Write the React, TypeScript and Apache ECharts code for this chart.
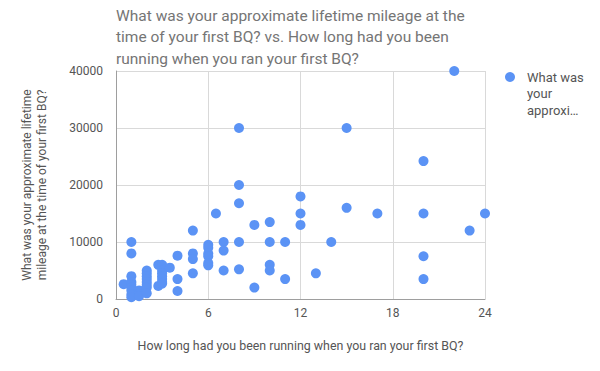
import React, { useEffect, useRef } from "react";
import * as echarts from "echarts";

const titleLines = [
  "What was your approximate lifetime mileage at the",
  "time of your first BQ? vs. How long had you been",
  "running when you ran your first BQ?",
];
const seriesName = "What was your approximate lifetime mileage at the time of your first BQ?";
const legendLines = ["What was", "your", "approxi…"];
const xAxisTitle = "How long had you been running when you ran your first BQ?";
const yAxisTitle = "What was your approximate lifetime\nmileage at the time of your first BQ?";

// years running (x) and lifetime mileage (y)
const yearsRunning = [
  0.5, 1, 1, 1, 1, 1, 1, 1, 1, 1,
  1.5, 1.5, 1.5,
  2, 2, 2, 2, 2, 2, 2, 2,
  2.75, 2.75,
  3, 3, 3, 3, 3, 3, 3,
  3.5,
  4, 4, 4,
  5, 5, 5, 5,
  6, 6, 6, 6, 6, 6,
  6.5,
  7, 7, 7,
  8, 8, 8, 8, 8,
  9, 9,
  10, 10, 10, 10,
  11, 11,
  12, 12, 12,
  13, 14,
  15, 15, 17,
  20, 20, 20, 20,
  22, 23, 24,
];
const lifetimeMileage = [
  2600, 10000, 8000, 4000, 3000, 2500, 2000, 1500, 800, 300,
  1500, 800, 500,
  5000, 4500, 4000, 3500, 3000, 2500, 2000, 1000,
  6000, 2300,
  6000, 5000, 4500, 4000, 3500, 3000, 2700,
  5500,
  7600, 3500, 1400,
  12000, 8000, 7000, 4500,
  9500, 9000, 8000, 7500, 6300, 5900,
  15000,
  10000, 8500, 5000,
  30000, 20000, 16800, 10000, 5200,
  13000, 2000,
  13500, 10000, 6000, 5000,
  10000, 3500,
  18000, 15000, 13000,
  4500, 10000,
  30000, 16000, 15000,
  24200, 15000, 7500, 3500,
  40000, 12000, 15000,
];

const xTicks = { min: 0, max: 24, interval: 6 };
const yTicks = { min: 0, max: 40000, interval: 10000 };

const FONT = "Roboto, Arial, sans-serif";
const DOT = "#5b93f5";

export default function App() {
  const ref = useRef<HTMLDivElement>(null);
  useEffect(() => {
    if (!ref.current) return;
    const chart = echarts.init(ref.current, undefined, { renderer: "svg" });
    const points = yearsRunning.map((x, i) => [x, lifetimeMileage[i]]);
    chart.setOption({
      animation: false,
      backgroundColor: "#ffffff",
      textStyle: { fontFamily: FONT },
      title: {
        text: titleLines.join("\n"),
        left: 111,
        top: 0,
        textStyle: {
          fontFamily: FONT,
          fontSize: 15.5,
          fontWeight: "normal",
          color: "#757575",
          lineHeight: 21.5,
        },
      },
      grid: { left: 116, right: 115, top: 71, bottom: 72, containLabel: false },
      xAxis: {
        type: "value",
        min: xTicks.min,
        max: xTicks.max,
        interval: xTicks.interval,
        name: xAxisTitle,
        nameLocation: "middle",
        nameGap: 40,
        nameTextStyle: { fontFamily: FONT, fontSize: 12.4, color: "#555555" },
        axisLine: { show: true, lineStyle: { color: "#9e9e9e", width: 1 } },
        axisTick: { show: false },
        axisLabel: { margin: 8, fontFamily: FONT, fontSize: 12, color: "#555555" },
        splitLine: { show: true, lineStyle: { color: "#d9d9d9", width: 1 } },
      },
      yAxis: {
        type: "value",
        min: yTicks.min,
        max: yTicks.max,
        interval: yTicks.interval,
        name: yAxisTitle,
        nameLocation: "middle",
        nameRotate: 90,
        nameGap: 66,
        nameTextStyle: { fontFamily: FONT, fontSize: 12, color: "#555555", lineHeight: 15.5 },
        axisLine: { show: true, lineStyle: { color: "#9e9e9e", width: 1 } },
        axisTick: { show: false },
        axisLabel: {
          margin: 13,
          fontFamily: FONT,
          fontSize: 12,
          color: "#555555",
          formatter: (v: number) => String(v),
        },
        splitLine: { show: true, lineStyle: { color: "#d9d9d9", width: 1 } },
      },
      series: [
        {
          name: seriesName,
          type: "scatter",
          symbol: "circle",
          symbolSize: 10,
          itemStyle: { color: DOT, opacity: 1 },
          data: points,
        },
      ],
      graphic: [
        {
          type: "circle",
          shape: { cx: 510, cy: 77, r: 5 },
          style: { fill: DOT },
        },
        {
          type: "text",
          x: 527,
          y: 69,
          style: {
            text: legendLines.join("\n"),
            fontFamily: FONT,
            fontSize: 13,
            lineHeight: 16.5,
            fill: "#555555",
          },
        },
      ],
    });
    return () => chart.dispose();
  }, []);
  return <div ref={ref} style={{ width: 600, height: 371, margin: -8 }} />;
}
